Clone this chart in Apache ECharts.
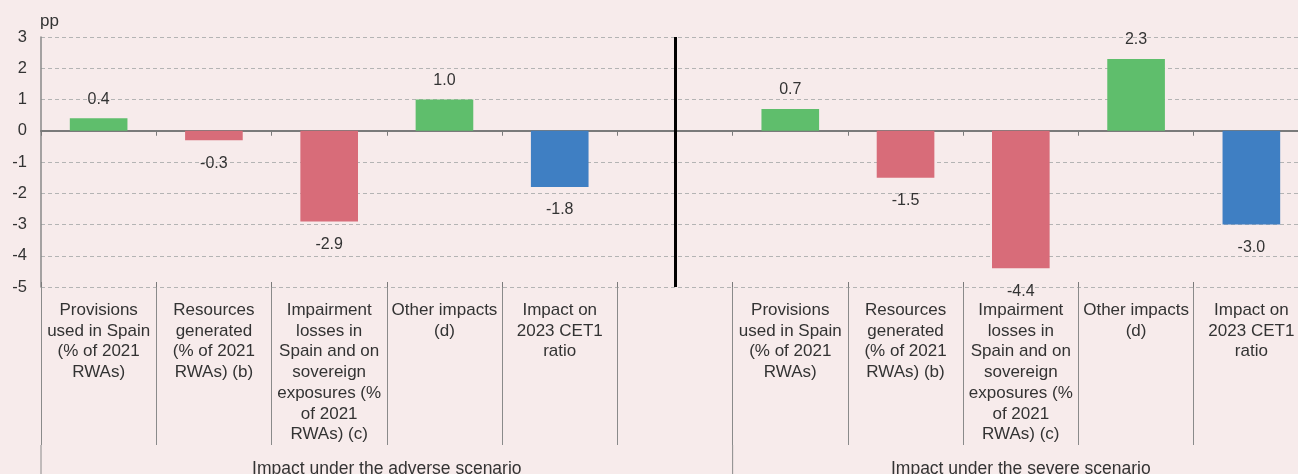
<!DOCTYPE html>
<html><head><meta charset="utf-8">
<script src="https://cdn.jsdelivr.net/npm/echarts@6/dist/echarts.min.js"></script>
<style>html,body{margin:0;padding:0;background:#f7ebeb;overflow:hidden;width:1298px;height:474px}#c{width:1309px;height:474px}</style>
</head><body><div id="c"></div>
<script>
const categories = ['Provisions\nused in Spain\n(% of 2021\nRWAs)', 'Resources\ngenerated\n(% of 2021\nRWAs) (b)', 'Impairment\nlosses in\nSpain and on\nsovereign\nexposures (%\nof 2021\nRWAs) (c)', 'Other impacts\n(d)', 'Impact on\n2023 CET1\nratio'];
const adverseValues = [0.4, -0.3, -2.9, 1.0, -1.8];
const severeValues = [0.7, -1.5, -4.4, 2.3, -3.0];
const groups = ['Impact under the adverse scenario', 'Impact under the severe scenario'];
const yTicks = [3, 2, 1, 0, -1, -2, -3, -4, -5];
const yUnit = 'pp';
const componentColors = ['#5fbe6c', '#d86c79', '#d86c79', '#5fbe6c', '#3f7fc3'];

const xLabels = [...categories, '', ...categories];
const xIdx = xLabels.map((_, i) => String(i));
const gapIndex = categories.length;
const values = [...adverseValues, null, ...severeValues];
const colors = [...componentColors, 'transparent', ...componentColors];
const txt = '#333333';
const font = '"Liberation Sans", Arial, sans-serif';

const chart = echarts.init(document.getElementById('c'), null, {renderer: 'canvas'});
const option = {
  backgroundColor: '#f7ebeb',
  animation: false,
  grid: {left: 41, right: 0, top: 37, bottom: 187, containLabel: false},
  textStyle: {fontFamily: font},
  yAxis: {
    type: 'value', min: Math.min(...yTicks), max: Math.max(...yTicks), interval: 1,
    name: yUnit, nameLocation: 'end', nameGap: 7,
    nameTextStyle: {color: txt, fontSize: 17, align: 'left', padding: [0, 0, 0, -1], fontFamily: font},
    axisLine: {show: true, lineStyle: {color: '#888', width: 1.5}},
    axisTick: {show: false},
    axisLabel: {color: txt, fontSize: 16.5, margin: 14, fontFamily: font},
    splitLine: {show: true, lineStyle: {color: '#b4b4b4', type: [4, 3], width: 1}}
  },
  xAxis: [
    {
      type: 'category', data: xIdx, position: 'bottom',
      axisLine: {onZero: true, lineStyle: {color: '#7a7a7a', width: 2}},
      axisTick: {show: true, interval: 0, length: 5, lineStyle: {color: '#7a7a7a', width: 1}},
      axisLabel: {show: false}
    },
    {
      type: 'category', data: xLabels, position: 'bottom',
      axisLine: {show: false, onZero: false},
      axisTick: {show: true, interval: 0, length: 158, lineStyle: {color: '#8a8a8a', width: 1}},
      axisLabel: {interval: 0, color: txt, fontSize: 17, lineHeight: 20.7, margin: 13, fontFamily: font}
    },
    {
      type: 'category', data: xIdx, position: 'bottom',
      axisLine: {onZero: true, show: false},
      axisTick: {show: true, interval: 0, inside: true, length: 5, lineStyle: {color: '#7a7a7a', width: 1}},
      axisLabel: {show: false}
    }
  ],
  series: [{
    type: 'bar', xAxisIndex: 0, barWidth: '50%',
    data: values.map((v, i) => v === null ? null : {
      value: v, itemStyle: {color: colors[i]},
      label: {position: v >= 0 ? 'top' : 'bottom', distance: v >= 0 ? 11 : 15}
    }),
    label: {show: true, color: txt, fontSize: 16, fontFamily: font,
      formatter: p => p.value.toFixed(1)},
    markLine: {
      silent: true, symbol: 'none', label: {show: false},
      lineStyle: {color: '#000', width: 3, type: 'solid'},
      data: [{xAxis: gapIndex}]
    }
  }]
};
chart.setOption(option);

// group dividers and group labels positioned through the axis scales
const c0 = chart.convertToPixel({xAxisIndex: 1}, 0);
const c1 = chart.convertToPixel({xAxisIndex: 1}, 1);
const band = c1 - c0;
const yBottom = chart.convertToPixel({yAxisIndex: 0}, Math.min(...yTicks));
const tickEnd = yBottom + 158;
const groupRanges = [[0, gapIndex], [gapIndex + 1, xLabels.length - 1]];
const elems = [];
groupRanges.forEach((r, gi) => {
  const left = chart.convertToPixel({xAxisIndex: 1}, r[0]) - band / 2;
  const right = chart.convertToPixel({xAxisIndex: 1}, r[1]) + band / 2;
  elems.push({type: 'line', shape: {x1: left, y1: tickEnd, x2: left, y2: 474},
    style: {stroke: '#8a8a8a', lineWidth: 1}});
  elems.push({type: 'text', x: (left + right) / 2, y: tickEnd + 15,
    style: {text: groups[gi], fill: txt, font: '17.5px ' + font, textAlign: 'center', textVerticalAlign: 'top'}});
});
chart.setOption({graphic: elems});
</script></body></html>
